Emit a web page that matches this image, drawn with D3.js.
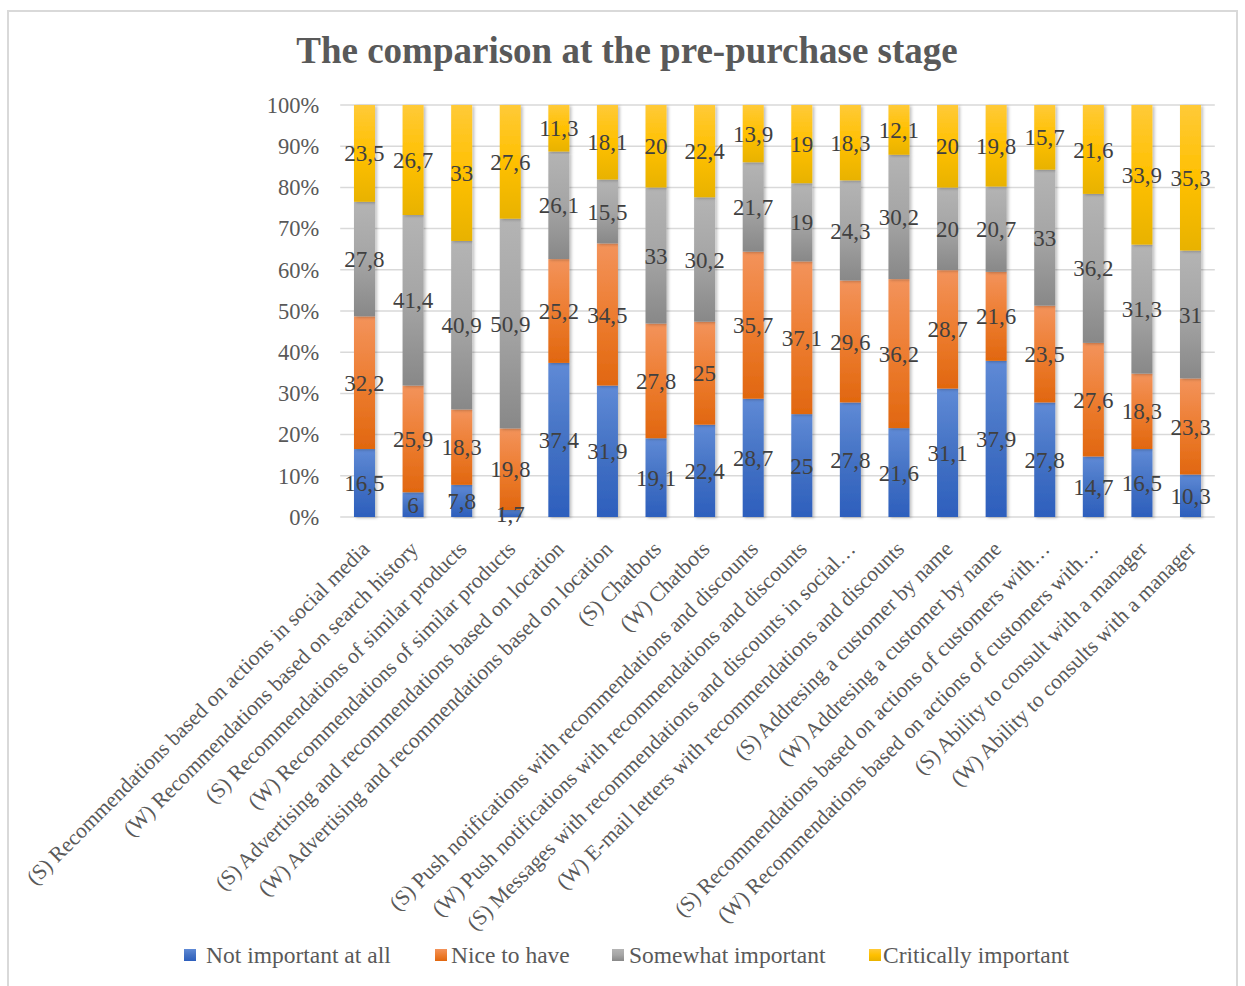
<!DOCTYPE html>
<html>
<head>
<meta charset="utf-8">
<script src="https://cdn.jsdelivr.net/npm/d3@7"></script>
<style>
	body { margin: 0; background: #fff; }
	svg text { font-family: "Liberation Serif", "Times New Roman", serif; }
</style>
</head>
<body>
<div id="chart"></div>
<script>
const categories = [
	"(S) Recommendations based on actions in social media",
	"(W) Recommendations based on search history",
	"(S) Recommendations of similar products",
	"(W) Recommendations of similar products",
	"(S) Advertising and recommendations based on location",
	"(W) Advertising and recommendations based on location",
	"(S) Chatbots",
	"(W) Chatbots",
	"(S) Push notifications with recommendations and discounts",
	"(W) Push notifications with recommendations and discounts",
	"(S) Messages with recommendations and discounts in social…",
	"(W) E-mail letters with recommendations and discounts",
	"(S) Addresing a customer by name",
	"(W) Addresing a customer by name",
	"(S) Recommendations based on actions of customers with…",
	"(W) Recommendations based on actions of customers with…",
	"(S) Ability to consult with a manager",
	"(W) Ability to consults with a manager"
];

const seriesNames = ["Not important at all", "Nice to have", "Somewhat important", "Critically important"];

const notImportant = [16.5, 6, 7.8, 1.7, 37.4, 31.9, 19.1, 22.4, 28.7, 25, 27.8, 21.6, 31.1, 37.9, 27.8, 14.7, 16.5, 10.3];
const niceToHave   = [32.2, 25.9, 18.3, 19.8, 25.2, 34.5, 27.8, 25, 35.7, 37.1, 29.6, 36.2, 28.7, 21.6, 23.5, 27.6, 18.3, 23.3];
const somewhat     = [27.8, 41.4, 40.9, 50.9, 26.1, 15.5, 33, 30.2, 21.7, 19, 24.3, 30.2, 20, 20.7, 33, 36.2, 31.3, 31];
const critically   = [23.5, 26.7, 33, 27.6, 11.3, 18.1, 20, 22.4, 13.9, 19, 18.3, 12.1, 20, 19.8, 15.7, 21.6, 33.9, 35.3];

const yTicks = [0, 0.1, 0.2, 0.3, 0.4, 0.5, 0.6, 0.7, 0.8, 0.9, 1];

// gradient stops per series: top, middle, bottom
const gradients = [
	["#5f8ad6", "#4472c4", "#2d5fbd"],
	["#f3935b", "#ed7d31", "#e1670f"],
	["#b4b4b4", "#a5a5a5", "#888888"],
	["#ffca38", "#ffc000", "#e8b200"]
];

const W = 1245, H = 986;
const plot = { left: 340.2, right: 1214.8, top: 105, bottom: 517 };

const table = categories.map((c, i) => ({
	cat: c,
	s0: notImportant[i], s1: niceToHave[i], s2: somewhat[i], s3: critically[i]
}));

const stacked = d3.stack().keys(["s0", "s1", "s2", "s3"]).offset(d3.stackOffsetExpand)(table);

const svg = d3.select("#chart").append("svg")
	.attr("width", W)
	.attr("height", H);

const defs = svg.append("defs");
gradients.forEach((g, i) => {
	const lg = defs.append("linearGradient")
		.attr("id", "grad" + i)
		.attr("x1", 0).attr("y1", 0).attr("x2", 0).attr("y2", 1);
	lg.append("stop").attr("offset", "0%").attr("stop-color", g[0]);
	lg.append("stop").attr("offset", "50%").attr("stop-color", g[1]);
	lg.append("stop").attr("offset", "100%").attr("stop-color", g[2]);
});
defs.append("filter").attr("id", "shadow")
	.attr("x", "-50%").attr("y", "-5%").attr("width", "200%").attr("height", "110%")
	.append("feDropShadow")
		.attr("dx", 2).attr("dy", 1).attr("stdDeviation", 1.4)
		.attr("flood-color", "#000").attr("flood-opacity", 0.25);

// chart border
svg.append("rect")
	.attr("x", 8).attr("y", 11)
	.attr("width", 1229).attr("height", 990)
	.attr("fill", "#fff")
	.attr("stroke", "#d9d9d9")
	.attr("stroke-width", 2);

svg.append("text")
	.attr("x", 627).attr("y", 63)
	.attr("text-anchor", "middle")
	.attr("font-size", 37)
	.attr("font-weight", "bold")
	.attr("fill", "#595959")
	.text("The comparison at the pre-purchase stage");

const xs = d3.scaleBand().domain(categories).range([plot.left, plot.right]).paddingInner(0.567).paddingOuter(0.2835);
const ys = d3.scaleLinear().domain([0, 1]).range([plot.bottom, plot.top]);

// gridlines
svg.append("g")
	.selectAll("line")
	.data(yTicks).enter().append("line")
		.attr("x1", plot.left).attr("x2", plot.right)
		.attr("y1", d => ys(d)).attr("y2", d => ys(d))
		.attr("stroke", "#d9d9d9")
		.attr("stroke-width", 1.5);

// y axis labels
const yAxis = svg.append("g")
	.attr("transform", "translate(" + plot.left + ",0)")
	.call(d3.axisLeft(ys).tickValues(yTicks).tickFormat(d3.format(".0%")).tickSize(0).tickPadding(21));
yAxis.select(".domain").remove();
yAxis.selectAll("text")
	.attr("font-size", 22.5)
	.attr("font-family", "Liberation Serif, serif")
	.attr("fill", "#595959");

// bars
const layers = svg.append("g").selectAll("g")
	.data(stacked).enter().append("g")
		.attr("fill", (d, i) => "url(#grad" + i + ")");

layers.selectAll("rect")
	.data(d => d).enter().append("rect")
		.attr("x", d => xs(d.data.cat))
		.attr("width", xs.bandwidth())
		.attr("y", d => ys(d[1]))
		.attr("height", d => ys(d[0]) - ys(d[1]))
		.attr("filter", "url(#shadow)");

// data labels
const fmt = v => String(v).replace(".", ",");
stacked.forEach(s => {
	svg.append("g").selectAll("text")
		.data(s).enter().append("text")
			.attr("x", d => xs(d.data.cat) + xs.bandwidth() / 2)
			.attr("y", d => ys((d[0] + d[1]) / 2))
			.attr("dy", "0.35em")
			.attr("text-anchor", "middle")
			.attr("font-size", 23)
			.attr("fill", "#404040")
			.text(d => fmt(d.data[s.key]));
});

// category labels
svg.append("g").selectAll("text")
	.data(categories).enter().append("text")
		.attr("transform", d => "translate(" + (xs(d) + xs.bandwidth() / 2 + 1) + "," + 545 + ") rotate(-45)")
		.attr("text-anchor", "end")
		.attr("dy", "0.35em")
		.attr("font-size", 21.5)
		.attr("fill", "#595959")
		.text(d => d);

// legend
const swatchX = [184, 435, 612, 869];
const labelX = [206, 451, 629, 883];
const legend = svg.append("g").selectAll("g")
	.data(seriesNames).enter().append("g");
legend.append("rect")
	.attr("x", (d, i) => swatchX[i]).attr("y", 949)
	.attr("width", 12).attr("height", 12)
	.attr("fill", (d, i) => "url(#grad" + i + ")");
legend.append("text")
	.attr("x", (d, i) => labelX[i]).attr("y", 955)
	.attr("dy", "0.35em")
	.attr("font-size", 23.5)
	.attr("fill", "#595959")
	.text(d => d);
</script>
</body>
</html>
